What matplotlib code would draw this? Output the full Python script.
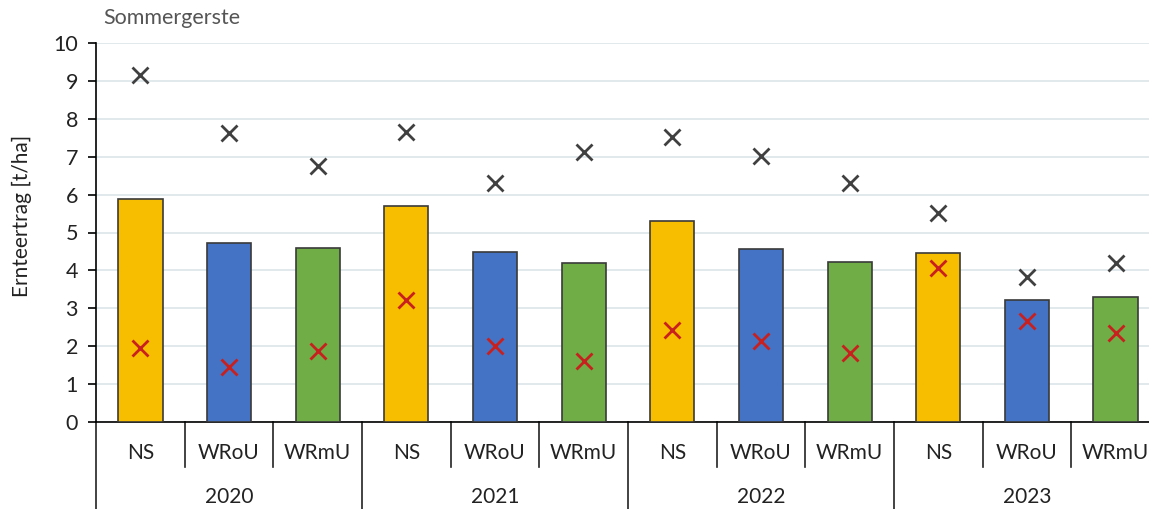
import matplotlib
matplotlib.use("Agg")
import matplotlib.pyplot as plt
import matplotlib.transforms as mtransforms

plt.rcParams['font.family'] = ['Lato', 'DejaVu Sans']

years = ["2020", "2021", "2022", "2023"]
variants = ["NS", "WRoU", "WRmU"]
bar_values = [5.88, 4.72, 4.60, 5.70, 4.48, 4.20, 5.30, 4.57, 4.23, 4.45, 3.22, 3.30]
max_values = [9.16, 7.63, 6.75, 7.65, 6.31, 7.12, 7.52, 7.02, 6.31, 5.51, 3.83, 4.20]
min_values = [1.95, 1.45, 1.87, 3.22, 2.00, 1.61, 2.43, 2.14, 1.82, 4.06, 2.66, 2.35]
variant_colors = {"NS": "#F7BE00", "WRoU": "#4472C4", "WRmU": "#70AD47"}

fig = plt.figure(figsize=(11.49, 5.09), dpi=100)
ax = fig.add_axes([96/1149, 87/509, 1064/1149, 379/509])

n = len(bar_values)
xs = list(range(n))
labels = [variants[i % 3] for i in xs]
colors = [variant_colors[l] for l in labels]

ax.bar(xs, bar_values, width=0.5, color=colors, edgecolor="#3a3a3a", linewidth=1.2, zorder=3)
ax.plot(xs, max_values, linestyle="none", marker="x", markersize=11, mew=2, color="#404040", zorder=4)
ax.plot(xs, min_values, linestyle="none", marker="x", markersize=11, mew=2, color="#C8201E", zorder=4)

ax.set_xlim(-0.5, n - 0.5)
ax.set_ylim(0, 10)
ax.set_yticks(range(0, 11))
ax.tick_params(axis="y", direction="out", length=6, width=1.2, labelsize=15.5, pad=7, colors="black")
for t in ax.get_yticklabels():
    t.set_color("#222222")
ax.set_xticks([])
ax.grid(axis="y", color="#DCE5EA", linewidth=1.2, zorder=0)
ax.set_axisbelow(True)
for s in ["top", "right"]:
    ax.spines[s].set_visible(False)
ax.spines["left"].set_linewidth(1.2)
ax.spines["bottom"].set_linewidth(1.2)

trans = mtransforms.blended_transform_factory(ax.transData, ax.transAxes)
ax.plot([-0.5, -0.5], [0, -0.25], transform=trans, color="#222222", lw=1.2, clip_on=False)
for i in range(1, n):
    bottom = -0.25 if i % 3 == 0 else -0.119
    ax.plot([i - 0.5, i - 0.5], [0, bottom], transform=trans, color="#222222", lw=1.2, clip_on=False)
for i, l in enumerate(labels):
    ax.text(i, -0.082, l, transform=trans, ha="center", va="center", fontsize=15, color="#222222")
for j, y in enumerate(years):
    ax.text(3 * j + 1, -0.198, y, transform=trans, ha="center", va="center", fontsize=15, color="#222222")

fig.text(22/1149, 1 - 216/509, "Ernteertrag [t/ha]", rotation=90, fontsize=15, color="#222222",
         ha="center", va="center")
fig.text(103/1149, 1 - 18/509, "Sommergerste", fontsize=15.5, color="#555555", ha="left", va="center")

fig.savefig("out.png", dpi=100)
